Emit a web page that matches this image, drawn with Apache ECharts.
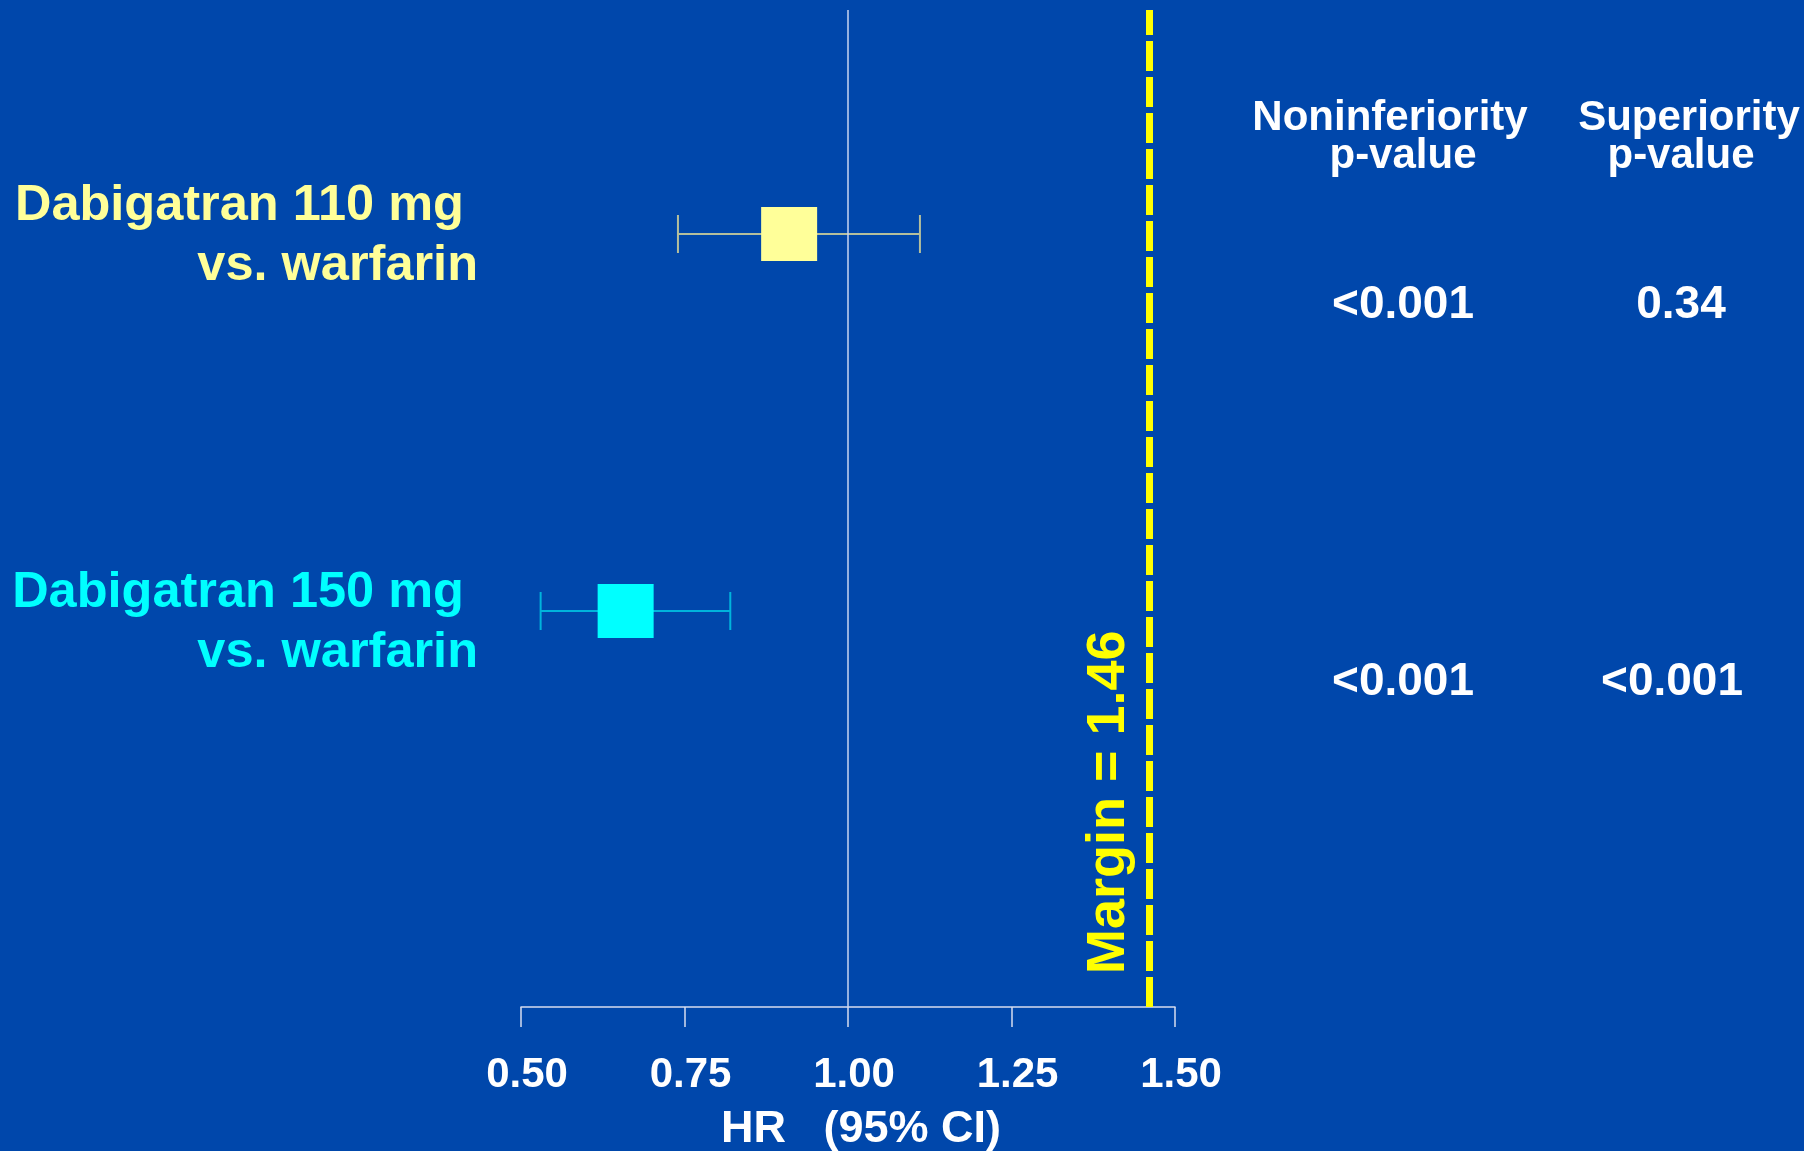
<!DOCTYPE html>
<html>
<head>
<meta charset="utf-8">
<script src="https://cdn.jsdelivr.net/npm/echarts@6/dist/echarts.min.js"></script>
<style>
html,body{margin:0;padding:0;background:#0047AB;}
#chart{width:1804px;height:1151px;}
</style>
</head>
<body>
<div id="chart"></div>
<script>
// ---- data ----
const categories = ['Dabigatran 110 mg \nvs. warfarin', 'Dabigatran 150 mg \nvs. warfarin'];
const hr = [0.91, 0.66];
const ciLow = [0.74, 0.53];
const ciHigh = [1.11, 0.82];
const pColumns = ['Noninferiority\np-value', 'Superiority\np-value'];
const nonInfP = ['<0.001', '<0.001'];
const supP = ['0.34', '<0.001'];
const xMin = 0.5, xMax = 1.5, xStep = 0.25;
const refHR = 1.0;
const marginHR = 1.46;
const marginLabel = 'Margin = 1.46';
const axisTitle = 'HR   (95% CI)';

// ---- styles ----
const FONT = 'Liberation Sans, Arial, Helvetica, sans-serif';
const boxColors = ['#FFFF99', '#00FFFF'];
const lineColors = ['#b4bf9c', '#00b4dc'];
const rowLabelShift = [2.5, 12.5];

const forestData = hr.map((v, i) => [i, v, ciLow[i], ciHigh[i]]);
const pData = [];
categories.forEach((c, i) => {
  pData.push({value: [0, i, nonInfP[i]]});
  pData.push({value: [1, i, supP[i]], label: {offset: [supP[i].length < 5 ? 9 : 0, 71]}});
});

function renderItem(params, api) {
  const row = api.value(0);
  const c = api.coord([api.value(1), row]);
  const l = api.coord([api.value(2), row]);
  const h = api.coord([api.value(3), row]);
  const i = params.dataIndex;
  const ls = {stroke: lineColors[i], lineWidth: 2};
  return {
    type: 'group',
    children: [
      {type: 'line', shape: {x1: l[0], y1: l[1], x2: h[0], y2: h[1]}, style: ls},
      {type: 'line', shape: {x1: l[0], y1: l[1] - 19, x2: l[0], y2: l[1] + 19}, style: ls},
      {type: 'line', shape: {x1: h[0], y1: h[1] - 19, x2: h[0], y2: h[1] + 19}, style: ls},
      {type: 'rect', shape: {x: c[0] - 28, y: c[1] - 27, width: 56, height: 54},
       style: {fill: boxColors[i]}}
    ]
  };
}

const headStyle = {color: '#ffffff', fontSize: 42, lineHeight: 38, fontWeight: 'bold', fontFamily: FONT};

const chart = echarts.init(document.getElementById('chart'));
chart.setOption({
  animation: false,
  backgroundColor: '#0047AB',
  textStyle: {fontFamily: FONT},
  grid: [
    {left: 521, width: 654, top: 10, height: 997, outerBoundsMode: 'none', containLabel: false},
    {left: 521, width: 654, top: 45.5, height: 754, outerBoundsMode: 'none', containLabel: false},
    {left: 1268.5, width: 538, top: 45.5, height: 754, outerBoundsMode: 'none', containLabel: false}
  ],
  xAxis: [
    {
      type: 'value', gridIndex: 0, min: xMin, max: xMax, interval: xStep,
      splitLine: {show: false},
      axisLine: {show: true, lineStyle: {color: '#d6ddf0', width: 1.5}},
      axisTick: {show: true, length: 20, lineStyle: {color: '#d6ddf0', width: 1.5}},
      axisLabel: {color: '#ffffff', fontSize: 42, fontWeight: 'bold', margin: 47,
                  padding: [0, 0, 0, 12],
                  fontFamily: FONT, formatter: v => v.toFixed(2)},
      name: axisTitle, nameLocation: 'middle', nameGap: 100,
      nameTextStyle: {color: '#ffffff', fontSize: 45, fontWeight: 'bold', fontFamily: FONT,
                      padding: [0, 0, 0, 26]}
    },
    {
      type: 'value', gridIndex: 1, min: xMin, max: xMax, show: false
    },
    {
      type: 'category', gridIndex: 2, data: pColumns, position: 'top',
      axisLine: {show: false}, axisTick: {show: false},
      axisLabel: {
        inside: true, interval: 0, margin: 54, color: '#ffffff', fontSize: 42, lineHeight: 38,
        fontWeight: 'bold', fontFamily: FONT,
        formatter: (v, i) => v.split('\n').map((s, k) => '{h' + i + k + '|' + s + '}').join('\n'),
        rich: {
          h00: Object.assign({padding: [0, 26, 0, 0]}, headStyle),
          h01: Object.assign({}, headStyle),
          h10: Object.assign({padding: [0, 0, 0, 34]}, headStyle),
          h11: Object.assign({padding: [0, 0, 0, 18]}, headStyle)
        }
      }
    }
  ],
  yAxis: [
    {type: 'value', gridIndex: 0, min: 0, max: 1, show: false},
    {
      type: 'category', gridIndex: 1, inverse: true, data: categories,
      axisLine: {show: false}, axisTick: {show: false}, splitLine: {show: false},
      axisLabel: {show: false}
    },
    {type: 'category', gridIndex: 2, data: categories, inverse: true, show: false}
  ],
  series: [
    {
      type: 'scatter', xAxisIndex: 0, yAxisIndex: 0, data: [], silent: true,
      markLine: {
        silent: true, symbol: ['none', 'none'], animation: false,
        data: [
          {xAxis: refHR, lineStyle: {color: '#c8d4f0', width: 1.5, type: 'solid'}, label: {show: false}},
          {xAxis: marginHR, lineStyle: {color: '#FFFF00', width: 7, type: [30, 6]},
           label: {show: true, formatter: marginLabel, position: 'insideStartTop',
                   distance: 13, padding: [0, 0, 0, 20], color: '#FFFF00', fontSize: 54, fontWeight: 'bold',
                   fontFamily: FONT}}
        ]
      }
    },
    {
      type: 'custom', xAxisIndex: 1, yAxisIndex: 1, renderItem: renderItem,
      encode: {x: [1, 2, 3], y: 0}, data: forestData, silent: true, z: 3
    },
    {
      // row labels, anchored at the left end of the HR axis
      type: 'scatter', xAxisIndex: 1, yAxisIndex: 1, symbolSize: 0, silent: true,
      itemStyle: {opacity: 1},
      data: categories.map((c, i) => ({
        value: [xMin, i],
        label: {color: boxColors[i], offset: [0, rowLabelShift[i]]}
      })),
      label: {show: true, position: 'left', distance: 43, align: 'right',
              formatter: p => categories[p.dataIndex],
              fontSize: 50.5, lineHeight: 60, fontWeight: 'bold', fontFamily: FONT}
    },
    {
      type: 'scatter', xAxisIndex: 2, yAxisIndex: 2, symbolSize: 0, silent: true,
      itemStyle: {opacity: 1},
      data: pData,
      label: {show: true, position: 'inside', offset: [0, 71], formatter: p => p.value[2],
              color: '#ffffff', fontSize: 46, fontWeight: 'bold', fontFamily: FONT}
    }
  ]
});
</script>
</body>
</html>
